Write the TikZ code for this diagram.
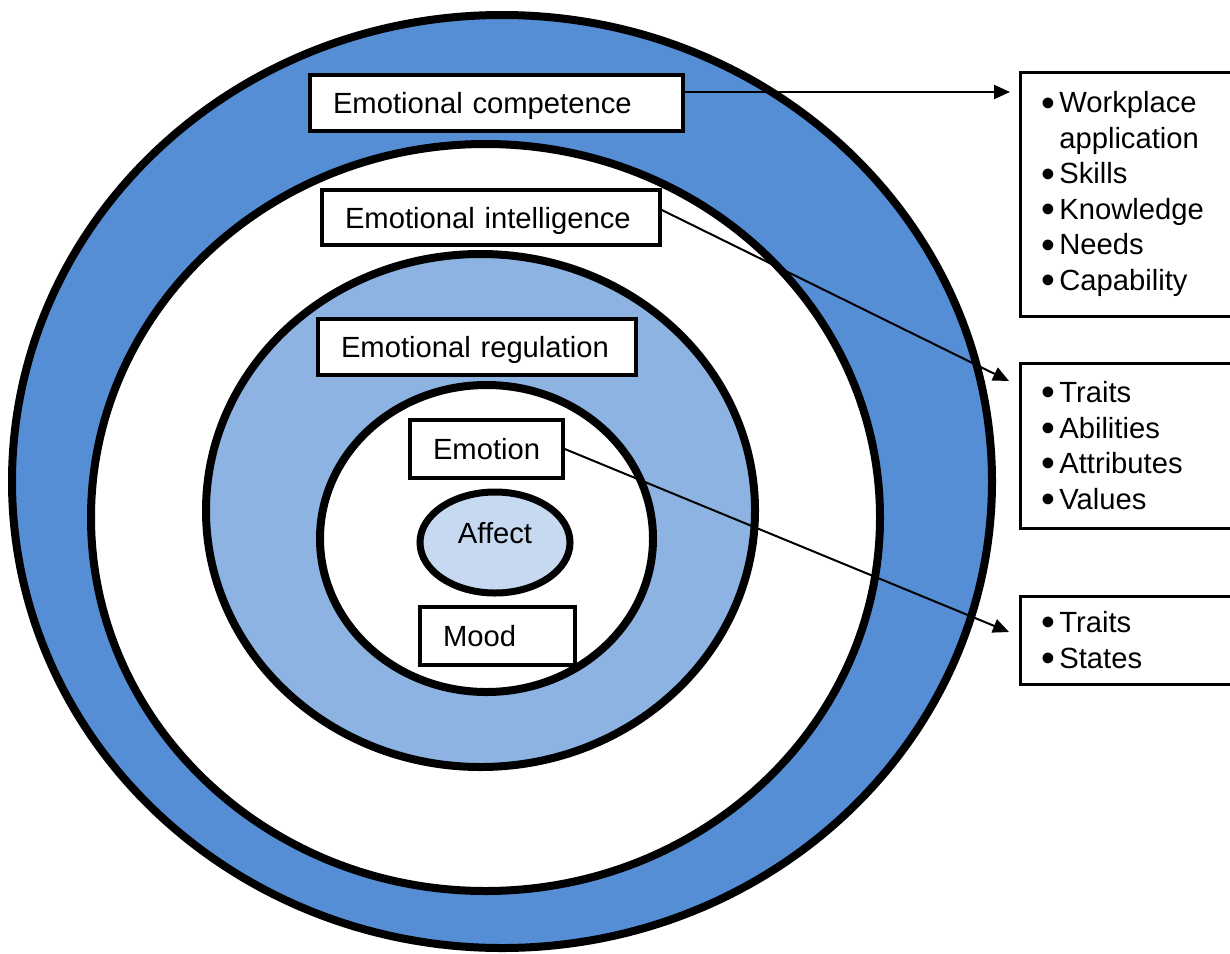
\documentclass[tikz,border=0pt]{standalone}
\usepackage{fontspec}
\setmainfont{Liberation Sans}
\usetikzlibrary{arrows.meta,shapes.geometric}
\definecolor{ringblue}{HTML}{558ED5}
\definecolor{midblue}{HTML}{8DB3E2}
\definecolor{paleblue}{HTML}{C6D9F1}
\newcommand{\lbul}{\smash{\raisebox{-1.6pt}{\scalebox{1.35}{\textbullet}}}\hspace{2pt}}
\newcommand{\lgap}{\phantom{\lbul}}
\tikzset{
  ring/.style={draw=black, line width=4pt},
  labelbox/.style={draw=black, fill=white, line width=1.8pt, align=left, inner ysep=0pt, inner xsep=11.5pt,
                   minimum height=28pt, text height=10.5pt, text depth=0pt},
  listbox/.style={draw=black, fill=white, line width=1.5pt, align=left, inner xsep=10.5pt, text width=130pt, anchor=west},
  pointer/.style={line width=1pt, -{Triangle[length=8pt,width=7pt]}}
}
\begin{document}
\begin{tikzpicture}[x=0.5pt, y=-0.5pt, font=\fontsize{14.6}{17.75}\selectfont]
\useasboundingbox (0,0) rectangle (1230,953);
\clip (0,0) rectangle (1230,953);

% rings, outside in
\draw[ring, fill=ringblue] (502,481.5) ellipse [x radius=245pt, y radius=233.25pt];
\draw[ring, fill=white] (485.5,517.5) ellipse [x radius=197.25pt, y radius=186.75pt];
\draw[ring, fill=midblue] (480.5,510.5) ellipse [x radius=137.25pt, y radius=128.25pt];
\draw[ring, fill=white] (486.5,538.5) ellipse [x radius=83.25pt, y radius=76.75pt];

\node[ellipse, draw=black, fill=paleblue, line width=3.5pt, inner sep=0pt,
      minimum width=75pt, minimum height=50.5pt] (affect) at (495,542.5) {\raisebox{10pt}{Affect}};

% labels
\node[labelbox, text width=163.5pt] (comp) at (496.5,103) {Emotional competence};
\node[labelbox, text width=146pt, minimum height=27.5pt] (intel) at (491,217.5) {Emotional intelligence};
\node[labelbox, text width=136pt] (regul) at (477,347) {Emotional regulation};
\node[labelbox, text width=53.5pt, minimum height=29pt] (emotion) at (486.5,449) {Emotion};
\node[labelbox, text width=54.5pt, minimum height=29pt] (mood) at (497.5,636) {Mood};

% lists on the right
\node[listbox, minimum height=122pt] (compList) at (1019,194)
  {\lbul Workplace\\\lgap application\\\lbul Skills\\\lbul Knowledge\\\lbul Needs\\\lbul Capability};
\node[listbox, minimum height=82.5pt] (intelList) at (1019,445.5)
  {\lbul Traits\\\lbul Abilities\\\lbul Attributes\\\lbul Values};
\node[listbox, minimum height=44pt] (emoList) at (1019,640)
  {\lbul Traits\\\lbul States};

% arrow tips
\coordinate (tipA) at (1010,92);
\coordinate (tipB) at (1009,381);
\coordinate (tipC) at (1009,632);

\draw[pointer] ([yshift=5.5pt]comp.east) -- (tipA);
\draw[pointer] ([yshift=3.75pt]intel.east) -- (tipB);
\draw[pointer] (emotion.east) -- (tipC);
\end{tikzpicture}
\end{document}
